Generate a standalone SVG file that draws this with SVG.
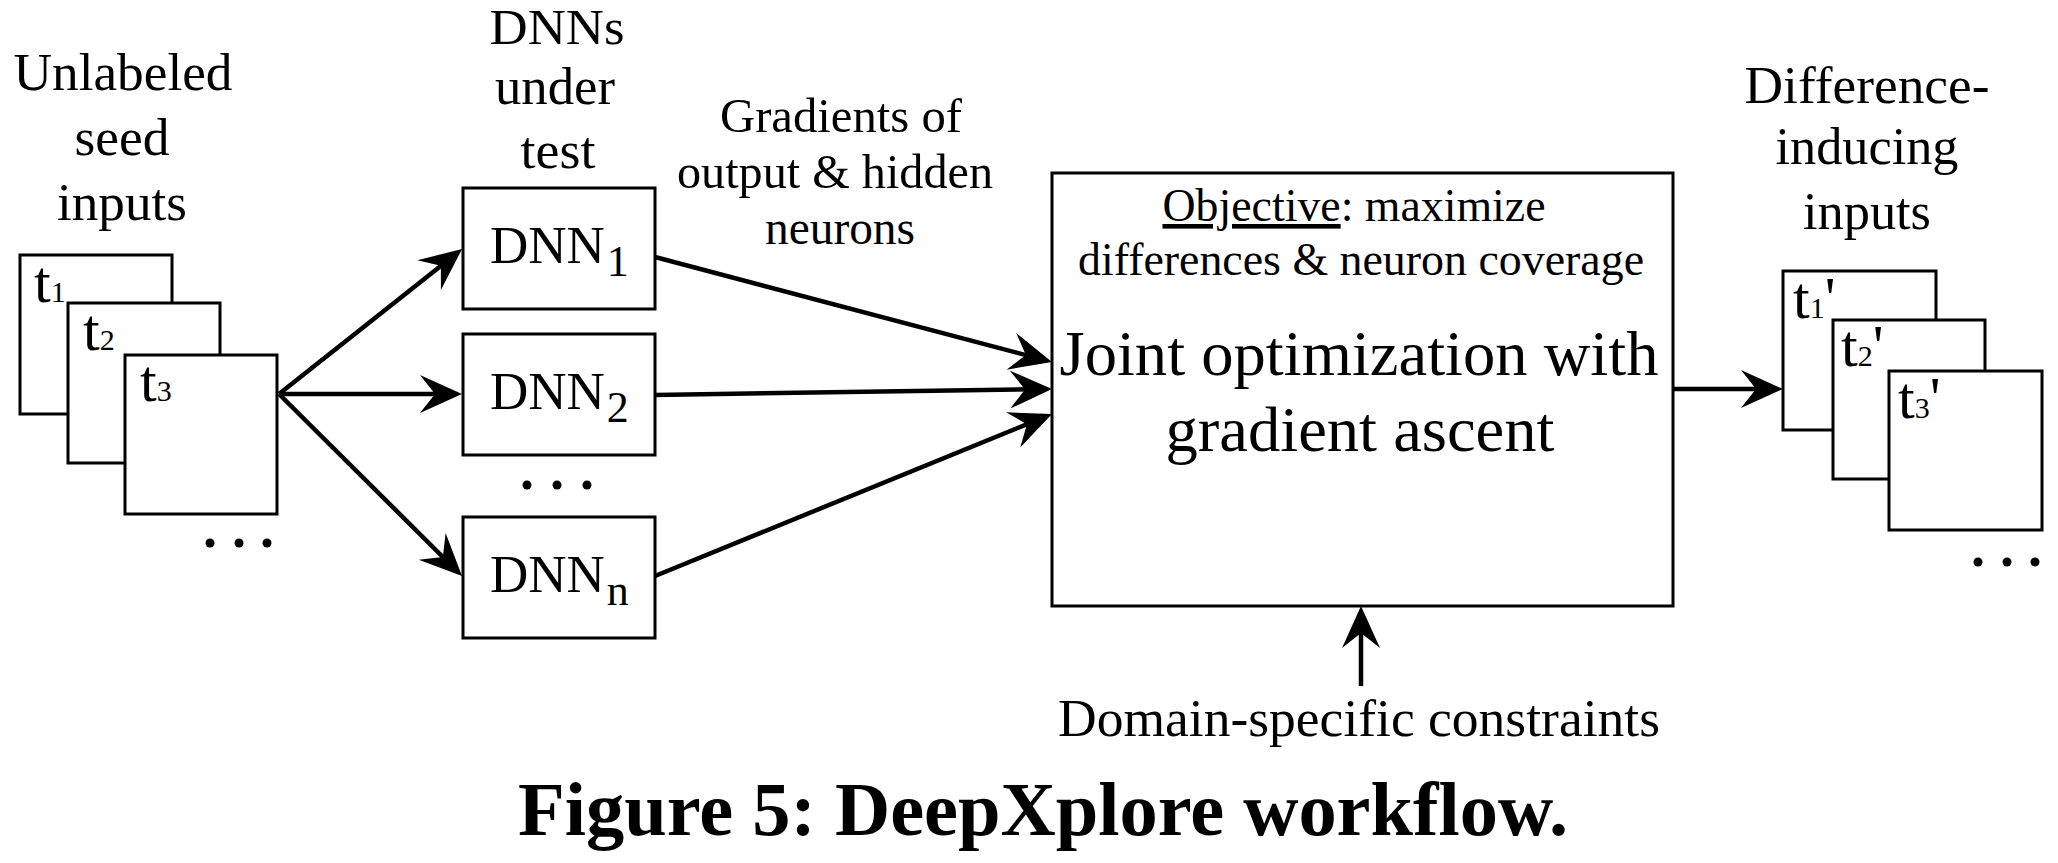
<svg xmlns="http://www.w3.org/2000/svg" width="2058" height="863" viewBox="0 0 2058 863" font-family="Liberation Serif, Times New Roman, serif">
  <style>
    text { font-family: "Liberation Serif", "Times New Roman", serif; fill: #000; }
    .box { fill: #fff; stroke: #000; stroke-width: 3; }
    .conn { fill: none; stroke: #000; stroke-width: 4.5; }
    .lbl { font-size: 53px; text-anchor: middle; }
    .tl { font-size: 60px; }
    .tsub { font-size: 30px; }
    .dnn { font-size: 53px; }
    .dsub { font-size: 44px; }
    .mid { font-size: 48px; text-anchor: middle; }
    .obj { font-size: 46px; text-anchor: middle; }
    .big { font-size: 64px; text-anchor: middle; }
    .cap { font-size: 76px; font-weight: bold; text-anchor: middle; }
    .dot { fill: #000; }
  </style>
  <defs>
    <marker id="ah" markerUnits="userSpaceOnUse" markerWidth="46" markerHeight="42" refX="20" refY="20" orient="auto" overflow="visible">
      <path d="M0,1 L42,20 L0,39 L15,20 Z" fill="#000"/>
    </marker>
  </defs>
  <rect width="2058" height="863" fill="#fff"/>

  <g id="seed-inputs">
    <text class="lbl" x="123" y="90" textLength="219" lengthAdjust="spacingAndGlyphs">Unlabeled</text>
    <text class="lbl" x="122" y="155" textLength="95" lengthAdjust="spacingAndGlyphs">seed</text>
    <text class="lbl" x="122" y="220" textLength="130" lengthAdjust="spacingAndGlyphs">inputs</text>
    <rect class="box" x="20" y="255" width="152" height="159"/>
    <text class="tl" x="34" y="302">t<tspan class="tsub">1</tspan></text>
    <rect class="box" x="68" y="303" width="152" height="160"/>
    <text class="tl" x="83" y="350">t<tspan class="tsub">2</tspan></text>
    <rect class="box" x="125" y="355" width="152" height="159"/>
    <text class="tl" x="140" y="401">t<tspan class="tsub">3</tspan></text>
    <circle class="dot" cx="210" cy="543" r="4.5"/>
    <circle class="dot" cx="239" cy="543" r="4.5"/>
    <circle class="dot" cx="267" cy="543" r="4.5"/>
  </g>

  <g id="dnns-label">
    <text class="lbl" x="557" y="44" style="font-size:50px" textLength="135" lengthAdjust="spacingAndGlyphs">DNNs</text>
    <text class="lbl" x="555" y="104" textLength="120" lengthAdjust="spacingAndGlyphs">under</text>
    <text class="lbl" x="558" y="168" textLength="75" lengthAdjust="spacingAndGlyphs">test</text>
  </g>

  <g id="dnn1">
    <rect class="box" x="463" y="188" width="192" height="121"/>
    <text class="dnn" x="490" y="263">DNN<tspan class="dsub" dx="2" dy="13">1</tspan></text>
  </g>
  <g id="dnn2">
    <rect class="box" x="463" y="334" width="192" height="121"/>
    <text class="dnn" x="490" y="409">DNN<tspan class="dsub" dx="2" dy="13">2</tspan></text>
  </g>
  <g id="dnn-dots">
    <circle class="dot" cx="527" cy="485" r="4.5"/>
    <circle class="dot" cx="557" cy="485" r="4.5"/>
    <circle class="dot" cx="587" cy="485" r="4.5"/>
  </g>
  <g id="dnnn">
    <rect class="box" x="463" y="517" width="192" height="121"/>
    <text class="dnn" x="490" y="592">DNN<tspan class="dsub" dx="2" dy="13">n</tspan></text>
  </g>

  <g id="gradients-label">
    <text class="mid" x="841" y="132" textLength="242" lengthAdjust="spacingAndGlyphs">Gradients of</text>
    <text class="mid" x="835" y="188" textLength="316" lengthAdjust="spacingAndGlyphs">output &amp; hidden</text>
    <text class="mid" x="840" y="244" textLength="150" lengthAdjust="spacingAndGlyphs">neurons</text>
  </g>

  <g id="joint-optimization">
    <rect class="box" x="1052" y="173" width="621" height="433"/>
    <text class="obj" x="1354" y="221" textLength="383" lengthAdjust="spacingAndGlyphs"><tspan text-decoration="underline">Objective</tspan>: maximize</text>
    <text class="obj" x="1361" y="275" textLength="566" lengthAdjust="spacingAndGlyphs">differences &amp; neuron coverage</text>
    <text class="big" x="1359" y="375" textLength="599" lengthAdjust="spacingAndGlyphs">Joint optimization with</text>
    <text class="big" x="1360" y="451" textLength="389" lengthAdjust="spacingAndGlyphs">gradient ascent</text>
  </g>

  <g id="constraints">
    <text class="mid" x="1359" y="736" style="font-size:53px" textLength="602" lengthAdjust="spacingAndGlyphs">Domain-specific constraints</text>
  </g>

  <g id="difference-inputs">
    <text class="lbl" x="1867" y="103" textLength="245" lengthAdjust="spacingAndGlyphs">Difference-</text>
    <text class="lbl" x="1867" y="164" textLength="183" lengthAdjust="spacingAndGlyphs">inducing</text>
    <text class="lbl" x="1867" y="229" textLength="128" lengthAdjust="spacingAndGlyphs">inputs</text>
    <rect class="box" x="1783" y="271" width="153" height="159"/>
    <text class="tl" x="1793" y="318">t<tspan class="tsub">1</tspan>'</text>
    <rect class="box" x="1833" y="320" width="152" height="159"/>
    <text class="tl" x="1841" y="366">t<tspan class="tsub">2</tspan>'</text>
    <rect class="box" x="1889" y="371" width="153" height="159"/>
    <text class="tl" x="1898" y="418">t<tspan class="tsub">3</tspan>'</text>
    <circle class="dot" cx="1978" cy="562" r="4.5"/>
    <circle class="dot" cx="2007" cy="562" r="4.5"/>
    <circle class="dot" cx="2035" cy="562" r="4.5"/>
  </g>

  <g id="connectors">
    <line class="conn" x1="279" y1="394" x2="444.8" y2="262.7" marker-end="url(#ah)"/>
    <line class="conn" x1="279" y1="394" x2="440" y2="394" marker-end="url(#ah)"/>
    <line class="conn" x1="279" y1="394" x2="446.4" y2="560.5" marker-end="url(#ah)"/>
    <line class="conn" x1="655" y1="257" x2="1030.7" y2="356.4" marker-end="url(#ah)"/>
    <line class="conn" x1="655" y1="395" x2="1030" y2="389.3" marker-end="url(#ah)"/>
    <line class="conn" x1="655" y1="576" x2="1031.6" y2="422.3" marker-end="url(#ah)"/>
    <line class="conn" x1="1361" y1="686" x2="1361" y2="628" marker-end="url(#ah)"/>
    <line class="conn" x1="1673" y1="389" x2="1761" y2="389" marker-end="url(#ah)"/>
  </g>

  <g id="caption">
    <text class="cap" x="1043" y="835" textLength="1050" lengthAdjust="spacingAndGlyphs">Figure 5: DeepXplore workflow.</text>
  </g>
</svg>
